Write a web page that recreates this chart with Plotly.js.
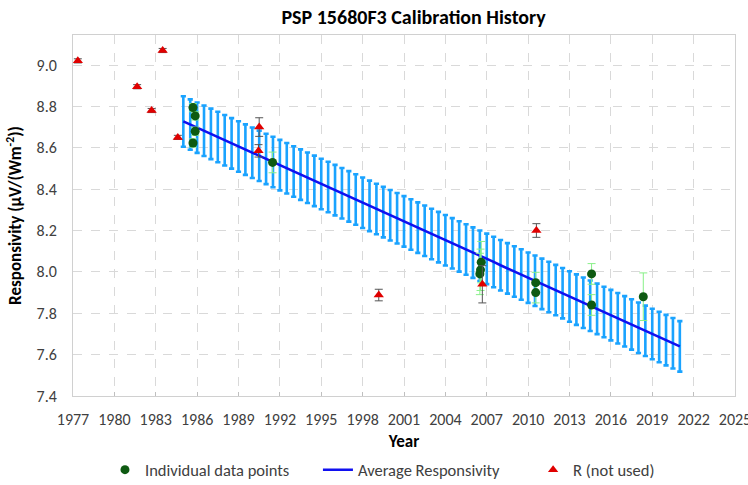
<!DOCTYPE html>
<html>
<head>
<meta charset="utf-8">
<script src="https://cdn.plot.ly/plotly-3.0.1.min.js"></script>
<style>html,body{margin:0;padding:0;background:#fff;}#chart{width:748px;height:485px;}</style>
</head>
<body>
<div id="chart"></div>
<script>
// Individual data points
var ptYears = [1985.7, 1985.86, 1985.86, 1985.7, 1991.47, 2006.6, 2006.55, 2006.5, 2010.55, 2010.55, 2014.6, 2014.6, 2018.35];
var ptValues = [8.794, 8.754, 8.680, 8.623, 8.529, 8.047, 8.010, 7.990, 7.948, 7.900, 7.990, 7.840, 7.880];
var ptErr = [0.02, 0.02, 0.02, 0.02, 0.05, 0.10, 0.10, 0.10, 0.05, 0.05, 0.05, 0.05, 0.115];

// Average responsivity (half-year steps)
var avgYears = [1985.0,1985.5,1986.0,1986.5,1987.0,1987.5,1988.0,1988.5,1989.0,1989.5,
  1990.0,1990.5,1991.0,1991.5,1992.0,1992.5,1993.0,1993.5,1994.0,1994.5,
  1995.0,1995.5,1996.0,1996.5,1997.0,1997.5,1998.0,1998.5,1999.0,1999.5,
  2000.0,2000.5,2001.0,2001.5,2002.0,2002.5,2003.0,2003.5,2004.0,2004.5,
  2005.0,2005.5,2006.0,2006.5,2007.0,2007.5,2008.0,2008.5,2009.0,2009.5,
  2010.0,2010.5,2011.0,2011.5,2012.0,2012.5,2013.0,2013.5,2014.0,2014.5,
  2015.0,2015.5,2016.0,2016.5,2017.0,2017.5,2018.0,2018.5,2019.0,2019.5,
  2020.0,2020.5,2021.0];
var avgValues = [8.727,8.712,8.697,8.682,8.667,8.652,8.636,8.621,8.606,8.591,
  8.576,8.561,8.546,8.531,8.516,8.501,8.485,8.470,8.455,8.440,
  8.425,8.410,8.395,8.380,8.365,8.350,8.334,8.319,8.304,8.289,
  8.274,8.259,8.244,8.229,8.214,8.199,8.183,8.168,8.153,8.138,
  8.123,8.108,8.093,8.078,8.063,8.048,8.032,8.017,8.002,7.987,
  7.972,7.957,7.942,7.927,7.912,7.897,7.881,7.866,7.851,7.836,
  7.821,7.806,7.791,7.776,7.761,7.746,7.730,7.715,7.700,7.685,
  7.670,7.655,7.640];
var avgErr = 0.122;

// R (not used)
var rYears = [1977.35, 1981.65, 1982.7, 1983.5, 1984.6, 1990.5, 1990.45, 1999.17, 2006.68, 2010.6];
var rValues = [9.02, 8.895, 8.78, 9.07, 8.65, 8.70, 8.585, 7.888, 7.94, 8.20];
var rErr = [0.01, 0.01, 0.01, 0.01, 0.01, 0.045, 0.03, 0.028, 0.09, 0.033];

var xTicks = [1977,1980,1983,1986,1989,1992,1995,1998,2001,2004,2007,2010,2013,2016,2019,2022,2025];
var yTicks = [7.4,7.6,7.8,8.0,8.2,8.4,8.6,8.8,9.0];

var FONT = "Carlito, Calibri, Lato, sans-serif";

var traces = [
  {
    name: 'Average Responsivity', x: avgYears, y: avgValues, type: 'scatter', mode: 'lines',
    line: {color: '#1010F0', width: 2.5},
    error_y: {type: 'constant', value: avgErr, color: '#1AA3FF', thickness: 2.6, width: 2.6},
    legend: 'legend2'
  },
  {
    name: 'Individual data points', x: ptYears, y: ptValues, type: 'scatter', mode: 'markers',
    marker: {color: '#0E5A12', size: 9, symbol: 'circle'},
    error_y: {type: 'data', array: ptErr, color: '#88F088', thickness: 1, width: 4},
    legend: 'legend'
  },
  {
    name: 'R (not used)', x: rYears, y: rValues, type: 'scatter', mode: 'markers',
    marker: {color: '#E00000', size: 9, symbol: 'triangle-up'},
    error_y: {type: 'data', array: rErr, color: '#555555', thickness: 1, width: 4},
    legend: 'legend3'
  }
];

function legendAt(x) {
  return {
    orientation: 'h', x: x, xanchor: 'left', y: 0.031, yref: 'container', yanchor: 'middle',
    font: {family: FONT, size: 16.5, color: '#404040'}, bgcolor: 'rgba(0,0,0,0)'
  };
}

var layout = {
  width: 748, height: 485,
  margin: {l: 73, r: 13, t: 35, b: 89},
  paper_bgcolor: '#ffffff', plot_bgcolor: '#ffffff',
  font: {family: FONT, size: 16, color: '#404040'},
  title: {text: '<b>PSP 15680F3 Calibration History</b>', font: {family: FONT, size: 20, color: '#000000'}, x: 0.553, xanchor: 'center', y: 0.965, yanchor: 'middle'},
  xaxis: {
    range: [1977, 2025], tickvals: xTicks, ticktext: xTicks.map(String),
    showgrid: true, gridcolor: '#D9D9D9', griddash: 'dash', gridwidth: 1,
    showline: true, linecolor: '#D0D0D0', linewidth: 1, mirror: true,
    zeroline: false, ticks: 'inside', ticklen: 4, tickcolor: '#BFBFBF',
    ticklabeloverflow: 'allow', ticklabelstandoff: 9, automargin: false,
    tickfont: {family: FONT, size: 16, color: '#404040'},
    title: {text: '<b>Year</b>', font: {family: FONT, size: 17, color: '#000000'}, standoff: 20}
  },
  yaxis: {
    range: [7.4, 9.145], tickvals: yTicks, ticktext: yTicks.map(function(v){return v.toFixed(1);}),
    showgrid: true, gridcolor: '#D9D9D9', griddash: 'dash', gridwidth: 1,
    showline: true, linecolor: '#D0D0D0', linewidth: 1, mirror: true,
    zeroline: false, ticks: '', ticklabelstandoff: 12, automargin: false,
    tickfont: {family: FONT, size: 16, color: '#404040'},
    title: {text: '<b>Responsivity (µV/(Wm<sup>-2</sup>))</b>', font: {family: FONT, size: 17, color: '#000000'}, standoff: 10}
  },
  showlegend: true,
  legend: legendAt(0.0483),
  legend2: legendAt(0.370),
  legend3: legendAt(0.695)
};

Plotly.newPlot('chart', traces, layout, {displayModeBar: false, responsive: false});
</script>
</body>
</html>
